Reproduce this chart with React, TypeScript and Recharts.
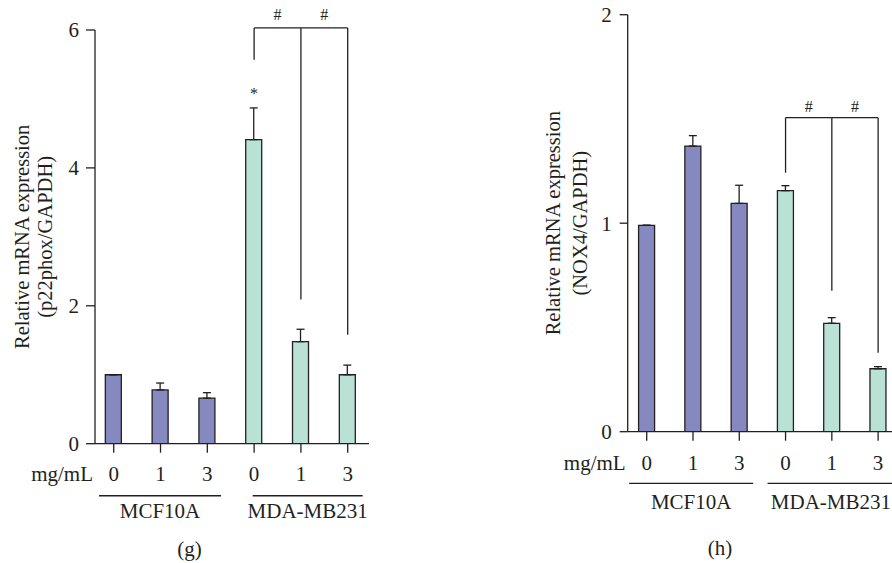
import React from 'react';
import { BarChart, Bar, XAxis, YAxis, ErrorBar, ReferenceLine, ReferenceDot, Cell } from 'recharts';

// ---------- data ----------
const doseLabels = ['0', '1', '3', '0', '1', '3'];
const cellLines = ['MCF10A', 'MCF10A', 'MCF10A', 'MDA-MB231', 'MDA-MB231', 'MDA-MB231'];
const groupNames = ['MCF10A', 'MDA-MB231'];
const doseUnit = 'mg/mL';

const p22phoxMeans = [1.0, 0.78, 0.66, 4.41, 1.48, 1.0];
const p22phoxErrors = [0, 0.1, 0.08, 0.46, 0.18, 0.14];
const p22phoxTicks = [0, 2, 4, 6];
const p22phoxLabel = ['Relative mRNA expression', '(p22phox/GAPDH)'];

const nox4Means = [0.99, 1.37, 1.095, 1.156, 0.52, 0.302];
const nox4Errors = [0, 0.05, 0.087, 0.024, 0.027, 0.01];
const nox4Ticks = [0, 1, 2];
const nox4Label = ['Relative mRNA expression', '(NOX4/GAPDH)'];

// significance brackets (control = index 3, compared with 4 and 5)
const p22phoxBracket = { top: 6.03, legs: [5.57, 2.09, 1.58], star: 5.08 };
const nox4Bracket = { top: 1.506, legs: [1.242, 0.676, 0.379], star: null as number | null };

// ---------- style ----------
const FONT = '"Liberation Serif", "Times New Roman", serif';
const INK = '#231f20';
const COLORS: Record<string, string> = { MCF10A: '#8689c0', 'MDA-MB231': '#b9e1d5' };
const IDX = [0, 1, 2, 3, 4, 5];
const X_AXIS_H = 30;
const FS = 21;

type PanelCfg = {
  left: number;
  width: number;
  margin: { top: number; right: number; bottom: number; left: number };
  yAxisWidth: number;
  xDomain: [number, number];
  yDomain: [number, number];
  yTicks: number[];
  yTickSize: number;
  yTickMargin: number;
  xTickMargin: number;
  means: number[];
  errors: number[];
  labelLines: string[];
  labelX: number[];
  bracket: { top: number; legs: number[]; star: number | null };
  hashOffset: number;
  underlineY: number;
  underlines: [number, number][];
  groupOffset: number;
  unitY: number;
  caption: string;
  captionPos: { x: number; y: number };
};

function Panel(p: PanelCfg) {
  const data = IDX.map((i) => ({
    x: i,
    value: p.means[i],
    err: [0, p.errors[i]],
    line: cellLines[i],
  }));
  const plotH = 563 - p.margin.top - p.margin.bottom - X_AXIS_H;
  const cy = p.margin.top + plotH / 2;
  const yLabel = () => (
    <g>
      {p.labelLines.map((t, i) => (
        <text
          key={i}
          x={p.labelX[i]}
          y={cy}
          transform={`rotate(-90 ${p.labelX[i]} ${cy})`}
          textAnchor="middle"
          dominantBaseline="central"
          fontFamily={FONT}
          fontSize={20.5}
          fill={INK}
        >
          {t}
        </text>
      ))}
    </g>
  );
  const txt = { fill: INK, fontFamily: FONT, fontSize: FS };
  const b = p.bracket;
  return (
    <div style={{ position: 'absolute', left: p.left, top: 0 }}>
      <BarChart width={p.width} height={563} data={data} margin={p.margin}>
        <XAxis
          type="number"
          dataKey="x"
          domain={p.xDomain}
          allowDataOverflow
          ticks={IDX}
          interval={0}
          height={X_AXIS_H}
          tickFormatter={(v: number) => doseLabels[v]}
          tickSize={9}
          tickMargin={p.xTickMargin}
          axisLine={{ stroke: INK, strokeWidth: 1.3 }}
          tickLine={{ stroke: INK, strokeWidth: 1.3 }}
          tick={txt}
        />
        <YAxis
          type="number"
          domain={p.yDomain}
          allowDataOverflow
          ticks={p.yTicks}
          interval={0}
          width={p.yAxisWidth}
          tickSize={p.yTickSize}
          tickMargin={p.yTickMargin}
          axisLine={{ stroke: INK, strokeWidth: 1.3 }}
          tickLine={{ stroke: INK, strokeWidth: 1.3 }}
          tick={txt}
          label={yLabel}
        />
        <Bar dataKey="value" barSize={16} stroke={INK} strokeWidth={1.3} isAnimationActive={false}>
          {data.map((d, i) => (
            <Cell key={i} fill={COLORS[d.line]} />
          ))}
          <ErrorBar dataKey="err" width={4} stroke={INK} strokeWidth={1.3} direction="y" isAnimationActive={false} />
        </Bar>
        {/* bracket */}
        <ReferenceLine
          segment={[{ x: 3, y: b.top }, { x: 4, y: b.top }]}
          stroke={INK}
          strokeWidth={1.3}
          ifOverflow="visible"
          label={{ value: '#', position: 'top', offset: p.hashOffset, fill: INK, fontFamily: FONT, fontSize: 16 }}
        />
        <ReferenceLine
          segment={[{ x: 4, y: b.top }, { x: 5, y: b.top }]}
          stroke={INK}
          strokeWidth={1.3}
          ifOverflow="visible"
          label={{ value: '#', position: 'top', offset: p.hashOffset, fill: INK, fontFamily: FONT, fontSize: 16 }}
        />
        {b.legs.map((leg, i) => (
          <ReferenceLine
            key={'leg' + i}
            segment={[{ x: 3 + i, y: b.top }, { x: 3 + i, y: leg }]}
            stroke={INK}
            strokeWidth={1.3}
            ifOverflow="visible"
          />
        ))}
        {b.star !== null && (
          <ReferenceDot
            x={3}
            y={b.star}
            r={0}
            ifOverflow="visible"
            label={{ value: '*', position: 'center', fill: INK, fontFamily: FONT, fontSize: 16 }}
          />
        )}
        {/* group underlines */}
        {p.underlines.map((u, i) => (
          <ReferenceLine
            key={'grp' + i}
            segment={[{ x: u[0], y: p.underlineY }, { x: u[1], y: p.underlineY }]}
            stroke={INK}
            strokeWidth={1.3}
            ifOverflow="visible"
            label={{ value: groupNames[i], position: 'bottom', offset: p.groupOffset, ...txt }}
          />
        ))}
        <ReferenceDot
          x={p.xDomain[0]}
          y={p.unitY}
          r={0}
          ifOverflow="visible"
          label={{ value: doseUnit, position: 'left', offset: 2, ...txt }}
        />
        <ReferenceDot
          x={p.captionPos.x}
          y={p.captionPos.y}
          r={0}
          ifOverflow="visible"
          label={{ value: p.caption, position: 'center', ...txt }}
        />
      </BarChart>
    </div>
  );
}

export default function App() {
  return (
    <div style={{ position: 'absolute', left: 0, top: 0, width: 892, height: 563, overflow: 'hidden', background: '#fff' }}>
      <Panel
        left={0}
        width={440}
        margin={{ top: 30, right: 71, bottom: 119.3 - X_AXIS_H, left: 0 }}
        yAxisWidth={95}
        xDomain={[-0.4, 5.455]}
        yDomain={[0, 6]}
        yTicks={p22phoxTicks}
        yTickSize={9}
        yTickMargin={7}
        xTickMargin={13}
        means={p22phoxMeans}
        errors={p22phoxErrors}
        labelLines={p22phoxLabel}
        labelX={[22.5, 45]}
        bracket={p22phoxBracket}
        hashOffset={7.5}
        underlineY={-0.755}
        underlines={[[-0.314, 2.293], [2.97, 5.32]]}
        groupOffset={7}
        unitY={-0.427}
        caption="(g)"
        captionPos={{ x: 1.62, y: -1.514 }}
      />
      <Panel
        left={480}
        width={412}
        margin={{ top: 14.7, right: 0, bottom: 131.3 - X_AXIS_H, left: 0 }}
        yAxisWidth={147.7}
        xDomain={[-0.411, 5.3]}
        yDomain={[0, 2]}
        yTicks={nox4Ticks}
        yTickSize={8}
        yTickMargin={8}
        xTickMargin={14}
        means={nox4Means}
        errors={nox4Errors}
        labelLines={nox4Label}
        labelX={[73, 100]}
        bracket={nox4Bracket}
        hashOffset={6}
        underlineY={-0.2475}
        underlines={[[-0.38, 2.3], [2.61, 5.35]]}
        groupOffset={10.5}
        unitY={-0.1458}
        caption="(h)"
        captionPos={{ x: 1.584, y: -0.557 }}
      />
    </div>
  );
}
